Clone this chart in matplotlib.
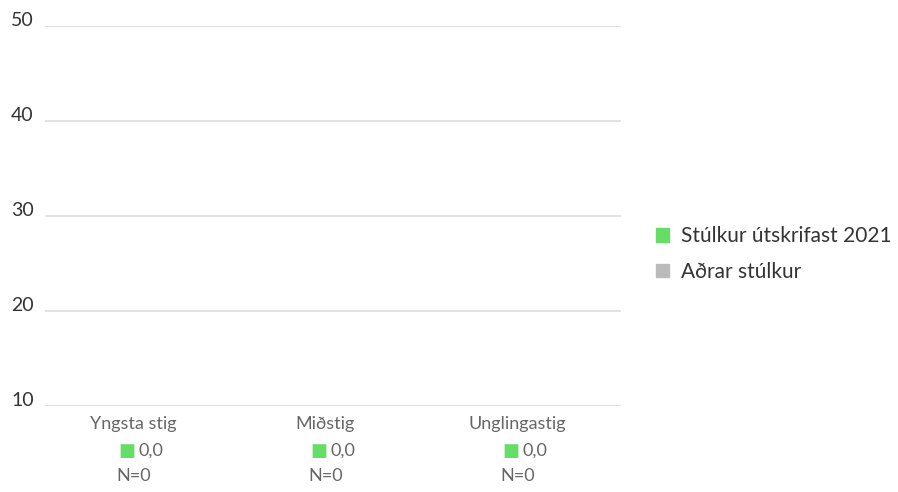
import matplotlib.pyplot as plt
import matplotlib.transforms as mtransforms
from matplotlib.patches import Patch

plt.rcParams["font.family"] = ["Lato", "DejaVu Sans"]

# stig og gildi
categories = ["Yngsta stig", "Miðstig", "Unglingastig"]
girls_2021 = [0.0, 0.0, 0.0]
other_girls = [0.0, 0.0, 0.0]
counts = [0, 0, 0]
series_names = ["Stúlkur útskrifast 2021", "Aðrar stúlkur"]
yticks = [10, 20, 30, 40, 50]

GREEN = "#66dd66"
GREY = "#bbbbbb"

fig = plt.figure(figsize=(8.98, 4.92), dpi=100)
ax = fig.add_axes([45 / 898, 1 - 406 / 492, 576 / 898, 380 / 492])

x = list(range(len(categories)))
w = 0.3
ax.bar([i - w / 2 for i in x], girls_2021, width=w, color=GREEN)
ax.bar([i + w / 2 for i in x], other_girls, width=w, color=GREY)

ax.set_xlim(-0.5, len(categories) - 0.5)
ax.set_ylim(10, 50)
ax.set_yticks(yticks)
ax.set_yticklabels([str(t) for t in yticks], fontsize=14, color="#333333")
for lbl in ax.get_yticklabels():
    lbl.set_verticalalignment("baseline")
ax.tick_params(axis="y", length=0, pad=8)
ax.set_xticks([])
ax.yaxis.grid(True, color="#dddddd", linewidth=1.2)
ax.set_axisbelow(True)
for s in ax.spines.values():
    s.set_visible(False)

# merkingar undir hverjum flokki
trans = mtransforms.blended_transform_factory(ax.transData, ax.transAxes)
for i, (cat, val, n) in enumerate(zip(categories, girls_2021, counts)):
    ax.text(i - 0.04, -0.047, cat, transform=trans, ha="center", va="center",
            fontsize=13, color="#666666")
    ax.text(i - 0.073, -0.118, "\u25A0", transform=trans, ha="center", va="center",
            fontsize=13, color=GREEN)
    ax.text(i - 0.012, -0.118, f"{val:.1f}".replace(".", ","), transform=trans,
            ha="left", va="center", fontsize=13, color="#666666")
    ax.text(i - 0.04, -0.183, f"N={n}", transform=trans, ha="center", va="center",
            fontsize=13, color="#666666")

handles = [Patch(color=GREEN), Patch(color=GREY)]
fig.legend(handles, series_names, loc="center left", bbox_to_anchor=(637 / 898, 1 - 254 / 492),
           frameon=False, fontsize=15, handlelength=0.65, handleheight=0.65,
           handletextpad=0.55, labelspacing=0.75, labelcolor="#333333")

fig.savefig("out.png", dpi=100)
